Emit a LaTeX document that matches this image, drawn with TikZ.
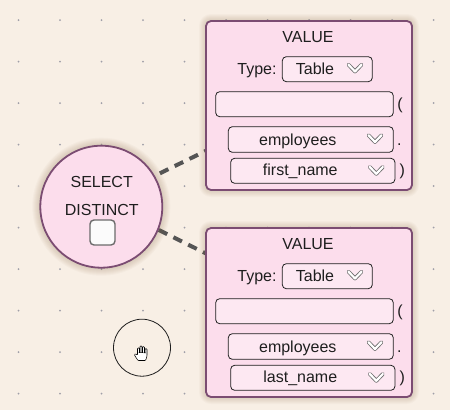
\documentclass[tikz,border=0pt]{standalone}
\usepackage{fontspec}
\setmainfont{Liberation Sans}
\definecolor{bgc}{HTML}{F8EFE5}
\definecolor{dotc}{HTML}{A09FA8}
\definecolor{pinkc}{HTML}{FCDDEC}
\definecolor{purpc}{HTML}{7B4C72}
\definecolor{ddfill}{HTML}{FDE8F2}
\definecolor{conc}{HTML}{555555}
\definecolor{txtc}{HTML}{1E1E1E}
\definecolor{chkc}{HTML}{6B6B6B}
\definecolor{glowc}{HTML}{8A6A45}
\pgfdeclarelayer{bg}
\pgfdeclarelayer{glow}
\pgfsetlayers{bg,glow,main}
\tikzset{
  lbl/.style={font=\fontsize{16}{19}\selectfont, text=txtc, inner sep=0pt, anchor=base},
  panel/.style={draw=purpc, line width=1.8pt, fill=pinkc, rounded corners=5pt, inner sep=0pt},
  ddbox/.style={draw=txtc, line width=0.8pt, fill=ddfill, rounded corners=4pt, inner sep=0pt},
  conn/.style={draw=conc, line width=4pt, dash pattern=on 9.5pt off 7pt},
  chevo/.style={draw=chkc, line width=3.8pt, line join=round, line cap=round},
  chevi/.style={draw=white, line width=2.2pt, line join=round, line cap=round},
  chk/.style={draw=chkc, line width=1.4pt, fill=white!97!gray, rounded corners=4pt, inner sep=0pt},
  glowfill/.style={fill=glowc, opacity=0.035},
}
\newcommand\mychevron[2]{%
  \draw[chevo] ({#1-6.5},{#2-3.8}) -- ({#1},{#2+3}) -- ({#1+6.5},{#2-3.8});
  \draw[chevi] ({#1-6.5},{#2-3.8}) -- ({#1},{#2+3}) -- ({#1+6.5},{#2-3.8});}
\newcommand\valuebox[3]{%
  \begin{scope}[shift={(0,#2)}]
    \node[panel, minimum width=206pt, minimum height=169pt] (#1) at (309,105.5) {};
    \node[lbl] (#1title) at (308,42.3) {VALUE};
    \node[lbl] (#1type) at (257,74.3) {Type:};
    \node[ddbox, minimum width=90pt, minimum height=25pt] (#1tsel) at (327.3,69.2) {};
    \node[lbl] (#1tval) at (315,74.3) {Table};
    \mychevron{355}{68.5}
    \node[ddbox, minimum width=177.6pt, minimum height=25pt] (#1fn) at (304.5,104.2) {};
    \node[lbl] (#1lp) at (400,109.5) {(};
    \node[ddbox, minimum width=165pt, minimum height=25.6pt] (#1tab) at (310.8,139.5) {};
    \node[lbl] (#1tabt) at (297.8,145) {employees};
    \mychevron{375}{139}
    \node[lbl] (#1dot) at (399.3,145) {.};
    \node[ddbox, minimum width=164.3pt, minimum height=25pt] (#1col) at (312.8,170.8) {};
    \node[lbl] (#1colt) at (300.3,175.8) {#3};
    \mychevron{376.3}{170.8}
    \node[lbl] (#1rp) at (402.3,175.8) {)};
    \begin{pgfonlayer}{glow}
      \foreach \r in {1,...,7}
        \fill[glowfill, rounded corners={5pt+\r pt}] ({206-\r},{21-\r}) rectangle ({412+\r},{190+\r});
    \end{pgfonlayer}
  \end{scope}}
\begin{document}
\begin{tikzpicture}[x=1pt, y=-1pt]
  \useasboundingbox (0,0) rectangle (450,410);
  % SELECT DISTINCT node
  \node[circle, draw=purpc, line width=1.8pt, fill=pinkc, minimum size=122pt, inner sep=0pt] (sel) at (101.3,206.7) {};
  \node[lbl, anchor=base] (selt) at (101.7,187.3) {SELECT};
  \node[lbl, anchor=base] (dist) at (101.8,215) {DISTINCT};
  \node[chk, minimum size=25pt] (cb) at (102.5,232.5) {};
  % value boxes
  \valuebox{va}{0}{first\_name}
  \valuebox{vb}{207}{last\_name}
  % pan tool circle
  \node[circle, draw=txtc, line width=0.8pt, minimum size=57pt, inner sep=0pt] (pan) at (142,347.7) {};
  \begin{scope}[shift={(134,345)}]
    \draw[fill=white, draw=black, line width=0.55pt, rounded corners=0.8pt]
      (4,15.5) -- (2,12.5) -- (0.3,9.8) -- (1.4,8.6) -- (3.5,10.2) -- (3.5,3) -- (5.5,3) -- (5.5,7.5)
      -- (6,7.5) -- (6,1) -- (8,1) -- (8,7.5) -- (8.5,7.5) -- (8.5,1.6) -- (10.5,1.6) -- (10.5,7.8)
      -- (11,7.8) -- (11,3.6) -- (13,3.6) -- (13,11) -- (11.6,15.5) -- cycle;
  \end{scope}
  \coordinate (c1) at (206,150.8);
  \coordinate (c2) at (206,253.5);
  \begin{pgfonlayer}{glow}
    \foreach \r in {1,...,7}
      \fill[glowfill] (sel.center) circle ({62+\r});
  \end{pgfonlayer}
  \begin{pgfonlayer}{bg}
    \fill[bgc] (0,0) rectangle (450,410);
    \foreach \i in {0,...,10}
      \foreach \j in {0,...,9}
        \fill[dotc] ({18.5+41.5*\i},{20+41.5*\j}) circle (1pt);
    \draw[conn, shorten <=5.5pt] (sel.30) -- (c1);
    \draw[conn] (sel.338) -- (c2);
  \end{pgfonlayer}
\end{tikzpicture}
\end{document}
